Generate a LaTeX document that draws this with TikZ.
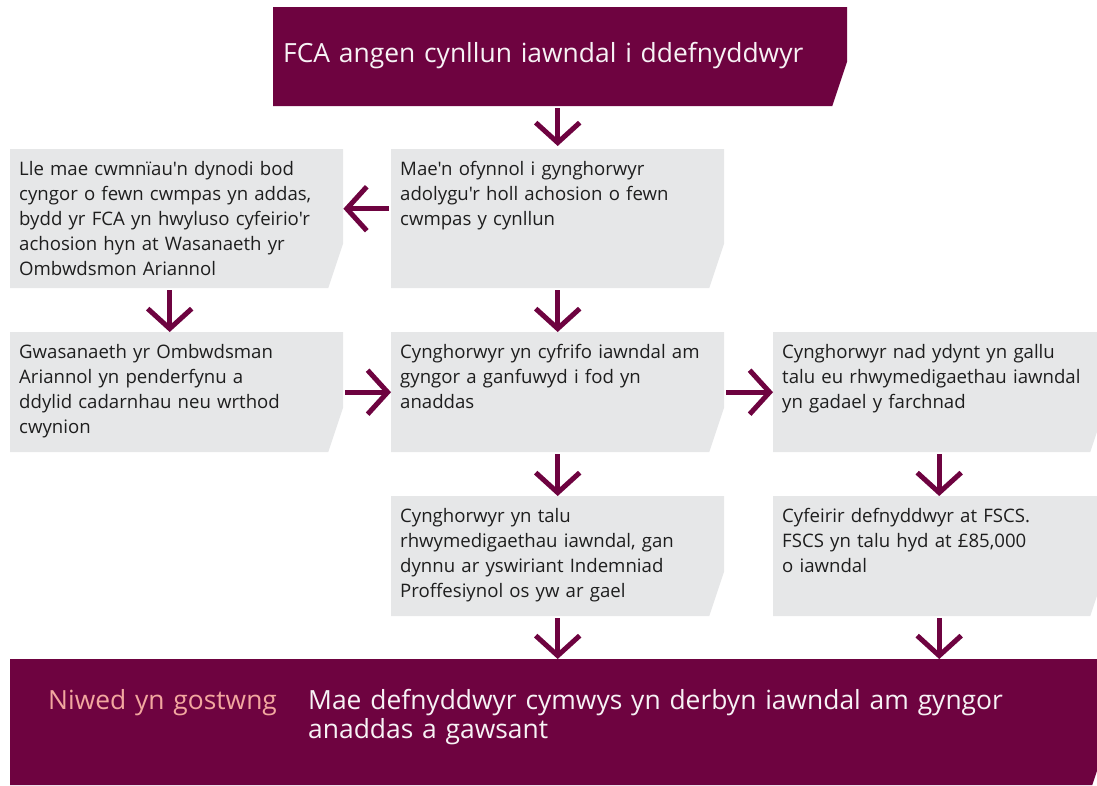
\documentclass[tikz,border=0pt]{standalone}
\usepackage{fontspec}
\setmainfont{Open Sans}[Ligatures=TeXOff]
\usetikzlibrary{arrows.meta,calc}
\definecolor{plum}{HTML}{6E0340}
\definecolor{boxgrey}{HTML}{E6E7E8}
\definecolor{ink}{HTML}{1E1E1E}
\definecolor{salmon}{HTML}{F2A79F}
\definecolor{paper}{HTML}{F7F2F5}

\begin{document}
\begin{tikzpicture}[x=1pt,y=-1pt]
	\tikzset{cutbox/.style={rectangle, anchor=north west, inner sep=0pt,
			path picture={\fill[#1] (path picture bounding box.north west) -- (path picture bounding box.north east)
				-- ([yshift=45pt]path picture bounding box.south east) -- ([xshift=-15pt]path picture bounding box.south east)
				-- (path picture bounding box.south west) -- cycle;}},
		dims/.style 2 args={minimum width=#1pt, minimum height=#2pt},
		gtext/.style={anchor=base west, text width=325pt, align=left, inner sep=0pt, text=ink, font=\fontsize{18.6}{25}\selectfont},
		ptext/.style={anchor=base west, text width=760pt, align=left, inner sep=0pt, text=paper, font=\fontsize{26.4}{29}\selectfont},
		arr/.style={draw=plum, line width=5pt, -{Straight Barb[length=20pt,width=44pt]}, shorten <=2pt}}
	\clip (0,0) rectangle (1097,785);
	
	\node[cutbox=plum, dims={574}{99}](top) at (273,7) {};
	\node[cutbox=boxgrey, dims={333}{139}](b1l) at (10,149) {};
	\node[cutbox=boxgrey, dims={333}{139}](b1m) at (391,149) {};
	\node[cutbox=boxgrey, dims={333}{120}](b2l) at (10,332) {};
	\node[cutbox=boxgrey, dims={333}{120}](b2m) at (391,332) {};
	\node[cutbox=boxgrey, dims={332}{120}](b2r) at (773,332) {};
	\node[cutbox=boxgrey, dims={333}{120}](b3m) at (391,496) {};
	\node[cutbox=boxgrey, dims={332}{120}](b3r) at (773,496) {};
	\node[cutbox=plum, dims={1097}{126}](bot) at (10,659) {};
	
	\node[ptext](ttop) at ([xshift=10pt,yshift=-55pt]top.north west) {FCA angen cynllun iawndal i ddefnyddwyr};
	\node[gtext](t1l) at ([xshift=9pt,yshift=-26pt]b1l.north west) {Lle mae cwmnïau'n dynodi bod\\ cyngor o fewn cwmpas yn addas,\\ bydd yr FCA yn hwyluso cyfeirio'r\\ achosion hyn at Wasanaeth yr\\ Ombwdsmon Ariannol};
	\node[gtext](t1m) at ([xshift=9pt,yshift=-26pt]b1m.north west) {Mae'n ofynnol i gynghorwyr\\ adolygu'r holl achosion o fewn\\ cwmpas y cynllun};
	\node[gtext](t2l) at ([xshift=9pt,yshift=-26pt]b2l.north west) {Gwasanaeth yr Ombwdsman\\ Ariannol yn penderfynu a\\ ddylid cadarnhau neu wrthod\\ cwynion};
	\node[gtext](t2m) at ([xshift=9pt,yshift=-26pt]b2m.north west) {Cynghorwyr yn cyfrifo iawndal am\\ gyngor a ganfuwyd i fod yn\\ anaddas};
	\node[gtext](t2r) at ([xshift=9pt,yshift=-26pt]b2r.north west) {Cynghorwyr nad ydynt yn gallu\\ talu eu rhwymedigaethau iawndal\\ yn gadael y farchnad};
	\node[gtext](t3m) at ([xshift=9pt,yshift=-26pt]b3m.north west) {Cynghorwyr yn talu\\ rhwymedigaethau iawndal, gan\\ dynnu ar yswiriant Indemniad\\ Proffesiynol os yw ar gael};
	\node[gtext](t3r) at ([xshift=9pt,yshift=-26pt]b3r.north west) {Cyfeirir defnyddwyr at FSCS.\\ FSCS yn talu hyd at £85,000\\ o iawndal};
	\node[ptext, text=salmon, text width=250pt](tag) at ([xshift=38pt,yshift=-50pt]bot.north west) {Niwed yn gostwng};
	\node[ptext](tbot) at ([xshift=298pt,yshift=-50pt]bot.north west) {Mae defnyddwyr cymwys yn derbyn iawndal am gyngor\\ anaddas a gawsant};
	
	\draw[arr, shorten >=3pt] (top.south -| b1m.north) -- (b1m.north);
	\draw[arr] ([yshift=10pt]b1m.west) -- ([yshift=10pt]b1l.east);
	\draw[arr] ([xshift=-7pt]b1l.south) -- ([xshift=-7pt]b2l.north);
	\draw[arr] (b1m.south) -- (b2m.north);
	\draw[arr] (b2l.east) -- (b2m.west);
	\draw[arr] (b2m.east) -- (b2r.west);
	\draw[arr] (b2m.south) -- (b3m.north);
	\draw[arr] (b2r.south) -- (b3r.north);
	\draw[arr] (b3m.south) -- (bot.north -| b3m.south);
	\draw[arr] (b3r.south) -- (bot.north -| b3r.south);
\end{tikzpicture}
\end{document}
